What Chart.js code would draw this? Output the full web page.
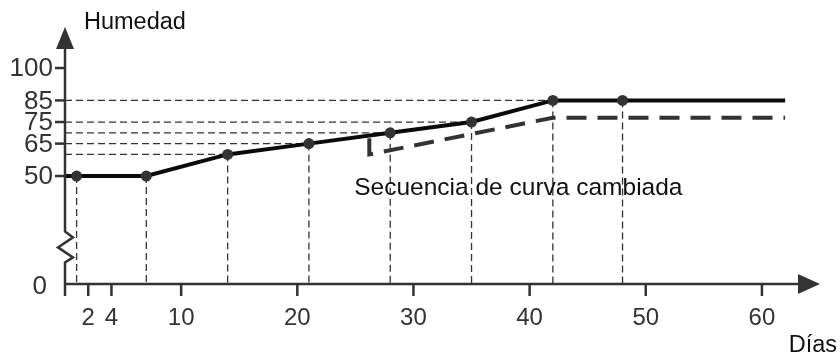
<!DOCTYPE html>
<html><head><meta charset="utf-8">
<script src="https://cdn.jsdelivr.net/npm/chart.js@4/dist/chart.umd.min.js"></script>
<style>html,body{margin:0;padding:0;background:#fff}#wrap{width:840px;height:359px}</style>
</head><body><div id="wrap"><canvas id="c" width="840" height="359"></canvas></div>
<script>
// ---- data ----
const days = [0, 1, 7, 14, 21, 28, 35, 42, 48, 62];
const humidity = [50, 50, 50, 60, 65, 70, 75, 85, 85, 85];
const markerDays = [1, 7, 14, 21, 28, 35, 42, 48];
const changedDays = [26.2, 26.2, 42, 62];
const changedHumidity = [67.5, 60, 77, 77];
const guideLevels = [60, 65, 70, 75, 85];
const xTickValues = [0, 2, 4, 10, 20, 30, 40, 50, 60];
const xTickLabels = ['', '2', '4', '10', '20', '30', '40', '50', '60'];
const yTickValues = [0, 50, 65, 75, 85, 100];
const yTickLabels = ['0', '50', '65', '75', '85', '100'];
const xTitle = 'Días';
const yTitle = 'Humedad';
const curveLabel = 'Secuencia de curva cambiada';

// ---- build datasets ----
const FONT = '"Liberation Sans", Arial, Helvetica, sans-serif';
const humAt = d => humidity[days.indexOf(d)];
const guideStyle = {borderColor:'#333', borderWidth:1.3, borderDash:[7,4], pointRadius:0, fill:false, order:3};
const datasets = [];
guideLevels.forEach(lv => {
  const d = markerDays.find(md => humAt(md) === lv);
  datasets.push(Object.assign({data:[{x:0,y:lv},{x:d,y:lv}]}, guideStyle));
});
markerDays.forEach(d => {
  datasets.push(Object.assign({data:[{x:d,y:humAt(d)},{x:d,y:0}]}, guideStyle));
});
datasets.push({
  data: changedDays.map((d,i)=>({x:d,y:changedHumidity[i]})),
  borderColor:'#333', borderWidth:4, borderDash:[20,11], pointRadius:0, fill:false, order:1, borderCapStyle:'butt'
});
datasets.push({
  data: days.map((d,i)=>({x:d,y:humidity[i]})),
  borderColor:'#0a0a0a', borderWidth:4, fill:false, order:0,
  pointRadius: days.map(d => markerDays.includes(d) ? 5.5 : 0),
  pointBackgroundColor:'#333', pointBorderWidth:0
});

const axesPlugin = {
  id:'axes',
  afterDatasetsDraw(chart){
    const {ctx, scales:{x, y}} = chart;
    const x0 = x.getPixelForValue(0), y0 = y.getPixelForValue(0);
    const xEnd = x.getPixelForValue(x.max), yTop = y.getPixelForValue(y.max);
    ctx.save();
    ctx.strokeStyle = '#333'; ctx.fillStyle = '#333'; ctx.lineWidth = 2.5;
    ctx.lineJoin = 'miter';
    // x axis
    ctx.beginPath(); ctx.moveTo(x0, y0); ctx.lineTo(xEnd - 18, y0); ctx.stroke();
    ctx.beginPath(); ctx.moveTo(xEnd, y0); ctx.lineTo(xEnd - 22, y0 - 10); ctx.lineTo(xEnd - 22, y0 + 10); ctx.closePath(); ctx.fill();
    // y axis with break
    const zb = y.getPixelForValue(10);
    ctx.beginPath(); ctx.moveTo(x0, y0); ctx.lineTo(x0, zb);
    ctx.lineTo(x0 + 8, zb - 5); ctx.lineTo(x0 - 7, zb - 15); ctx.lineTo(x0 + 8, zb - 25); ctx.lineTo(x0, zb - 31);
    ctx.lineTo(x0, yTop + 18); ctx.stroke();
    ctx.beginPath(); ctx.moveTo(x0, yTop); ctx.lineTo(x0 - 9, yTop + 22); ctx.lineTo(x0 + 9, yTop + 22); ctx.closePath(); ctx.fill();
    // x ticks
    ctx.font = '24px ' + FONT; ctx.textAlign = 'center'; ctx.textBaseline = 'middle';
    xTickValues.forEach((v, i) => {
      const px = x.getPixelForValue(v);
      ctx.beginPath(); ctx.moveTo(px, y0); ctx.lineTo(px, y0 + 12); ctx.stroke();
      if (xTickLabels[i]) ctx.fillText(xTickLabels[i], px, y0 + 34);
    });
    // y ticks
    ctx.font = '26px ' + FONT; ctx.textAlign = 'right';
    yTickValues.forEach((v, i) => {
      const py = y.getPixelForValue(v);
      if (v === 0) { ctx.fillText(yTickLabels[i], x0 - 18, py + 3); return; }
      ctx.beginPath(); ctx.moveTo(x0 - 10, py); ctx.lineTo(x0, py); ctx.stroke();
      ctx.fillText(yTickLabels[i], x0 - 12, py + 1);
    });
    // titles
    ctx.fillStyle = '#111';
    ctx.font = '23.5px ' + FONT; ctx.textAlign = 'left';
    ctx.fillText(yTitle, 84, 23);
    ctx.textAlign = 'right';
    ctx.fillText(xTitle, 837, 346);
    ctx.font = '24.5px ' + FONT; ctx.textAlign = 'left';
    ctx.fillText(curveLabel, x.getPixelForValue(24.9), y.getPixelForValue(44.3));
    ctx.restore();
  }
};

Chart.defaults.font.family = FONT;
new Chart(document.getElementById('c'), {
  type:'line',
  data:{datasets},
  options:{
    responsive:false, animation:false, devicePixelRatio:1,
    parsing:true,
    layout:{padding:{left:65, right:20, top:27, bottom:75}},
    scales:{
      x:{type:'linear', min:0, max:65, display:false},
      y:{type:'linear', min:0, max:119, display:false}
    },
    plugins:{legend:{display:false}, tooltip:{enabled:false}},
    elements:{line:{tension:0}}
  },
  plugins:[axesPlugin]
});
</script></body></html>
